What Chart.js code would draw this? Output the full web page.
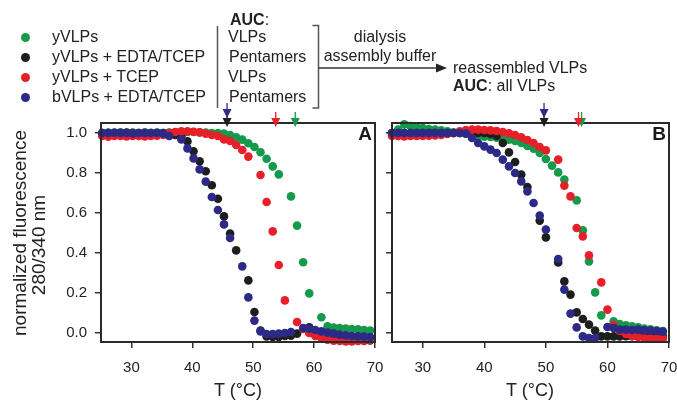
<!DOCTYPE html>
<html><head><meta charset="utf-8">
<script src="https://cdn.jsdelivr.net/npm/chart.js@4/dist/chart.umd.min.js"></script>
<style>
html,body{margin:0;padding:0;background:#fff;}
#wrap{position:relative;width:677px;height:410px;overflow:hidden;font-family:"Liberation Sans",Arial,sans-serif;color:#222;}
canvas{position:absolute;top:0;}
.t{position:absolute;white-space:nowrap;font-size:16px;line-height:20px;height:20px;}
.c{transform:translateX(-50%);}
.dot{position:absolute;width:9px;height:9px;border-radius:50%;}
.rot{position:absolute;white-space:nowrap;font-size:19px;line-height:22px;transform:translate(-50%,-50%) rotate(-90deg);}
.xt{position:absolute;white-space:nowrap;font-size:18px;line-height:22px;transform:translate(-50%,-50%);}
svg{position:absolute;left:0;top:0;}
</style></head>
<body><div id="wrap">
<canvas id="cA" width="385" height="410" style="left:0;width:385px;height:410px"></canvas>
<canvas id="cB" width="292" height="410" style="left:385px;width:292px;height:410px"></canvas>
<svg width="677" height="130">
 <line x1="217.5" y1="26" x2="217.5" y2="108" stroke="#555" stroke-width="1.5"/>
 <path d="M312.5,25.5 H318.5 V108 H312.5" fill="none" stroke="#555" stroke-width="1.5"/>
 <line x1="318.5" y1="68" x2="437" y2="68" stroke="#333" stroke-width="1.5"/>
 <polygon points="436,63.5 447,68 436,72.5" fill="#222"/>
</svg>
<div class="t" style="left:230px;top:10px"><b>AUC</b>:</div>
<div class="t" style="left:228px;top:27px">VLPs</div>
<div class="t" style="left:229px;top:47px">Pentamers</div>
<div class="t" style="left:228px;top:67px">VLPs</div>
<div class="t" style="left:229px;top:87px">Pentamers</div>
<div class="t c" style="left:380px;top:27px">dialysis</div>
<div class="t c" style="left:380px;top:46px">assembly buffer</div>
<div class="t" style="left:453px;top:58px">reassembled VLPs</div>
<div class="t" style="left:453px;top:76px"><b>AUC</b>: all VLPs</div>
<div class="rot" style="left:19.5px;top:233px">normalized fluorescence</div>
<div class="rot" style="left:39px;top:245px">280/340 nm</div>
<div class="xt" style="left:238px;top:390px">T (°C)</div>
<div class="xt" style="left:530px;top:390px">T (°C)</div>
</div>
<script>
// ---- data ----
const legendLabels = ['yVLPs', 'yVLPs + EDTA/TCEP', 'yVLPs + TCEP', 'bVLPs + EDTA/TCEP'];
const seriesKeys = ['green', 'black', 'red', 'blue'];
const xTicks = [30, 40, 50, 60, 70];
const yTicks = [0.0, 0.2, 0.4, 0.6, 0.8, 1.0];

const tempsA = [25.2,26.2,27.2,28.2,29.2,30.2,31.2,32.2,33.2,34.2,35.2,36.2,37.2,38.2,39.2,40.2,41.2,42.2,43.2,44.2,45.2,46.2,47.2,48.2,49.2,50.2,51.2,52.2,53.2,54.2,55.2,56.2,57.2,58.2,59.2,60.2,61.2,62.2,63.2,64.2,65.2,66.2,67.2,68.2,69.2];
const greenA = [1.0,1.002,1.0,1.003,1.0,1.002,1.0,1.003,1.0,1.002,1.0,1.002,1.003,1.005,1.005,1.005,1.003,1.002,1.0,1.0,0.997,0.99,0.978,0.967,0.949,0.93,0.904,0.871,0.833,0.793,null,0.683,0.537,0.354,0.198,null,0.079,0.033,0.027,0.025,0.022,0.02,0.018,0.015,0.012];
const blackA = [1.0,1.0,0.998,1.0,1.002,1.0,1.0,0.998,1.0,1.0,1.0,1.0,0.99,0.985,0.958,0.909,0.859,0.809,0.739,0.671,0.583,0.497,0.413,null,0.263,0.105,0.012,-0.017,-0.02,-0.02,-0.015,-0.013,-0.003,null,0.028,0.01,-0.005,-0.013,-0.02,-0.025,-0.028,-0.032,-0.035,-0.037,-0.037];
const redA = [0.985,0.982,0.985,0.985,0.983,0.985,0.985,0.983,0.985,0.987,0.99,1.0,1.005,1.008,1.008,1.006,1.003,0.997,0.99,0.985,0.968,0.96,0.94,0.915,0.882,null,0.79,0.655,0.508,0.34,0.163,null,0.055,0.02,0.0,-0.015,-0.025,-0.033,-0.038,-0.04,-0.042,-0.042,-0.04,-0.04,-0.035];
const blueA = [1.0,1.0,1.002,1.0,1.0,0.998,1.0,1.0,1.0,1.0,0.998,0.985,null,0.968,0.923,0.873,0.818,0.757,0.68,0.615,0.543,0.475,null,0.333,0.178,0.062,0.008,-0.005,-0.005,-0.003,0.0,0.005,null,0.025,0.022,0.015,0.008,0.002,-0.003,-0.008,-0.012,-0.015,-0.017,-0.018,-0.02];

const tempsB = [25,26,27,28,29,30,31,32,33,34,35,36,37,38,39,40,41,42,43,44,45,46,47,48,49,50,51,52,53,54,55,56,57,58,59,60,61,62,63,64,65,66,67,68,69];
const greenB = [1.0,1.017,1.043,1.035,1.03,1.025,1.02,1.017,1.013,1.008,1.003,1.0,0.997,0.99,0.985,0.982,0.98,0.977,0.973,0.967,0.96,0.95,0.935,0.922,0.9,0.87,0.837,0.803,0.767,null,0.663,0.513,0.358,0.203,0.088,null,0.058,0.045,0.038,0.033,0.028,0.022,0.018,0.013,0.01];
const blackB = [1.0,1.0,1.0,1.0,1.0,1.0,1.0,1.0,1.0,1.0,1.0,1.0,1.0,1.0,1.0,1.0,0.995,0.985,0.95,0.903,0.855,0.792,0.73,null,0.562,0.478,null,0.353,0.258,0.192,0.103,0.07,0.042,0.012,-0.017,-0.017,-0.017,-0.017,-0.016,-0.016,-0.016,-0.015,-0.015,-0.015,-0.015];
const redB = [0.985,0.985,0.983,0.985,0.985,0.985,0.987,0.988,0.99,0.995,1.0,1.008,1.015,1.017,1.017,1.015,1.013,1.01,1.005,0.998,0.99,0.978,0.965,0.95,0.93,0.913,null,0.867,0.737,0.683,0.525,0.483,0.388,null,0.253,0.117,0.04,0.01,-0.005,-0.015,-0.02,-0.025,-0.027,-0.028,-0.028];
const blueB = [1.0,1.0,1.0,1.0,1.0,1.0,1.0,1.0,1.0,1.0,1.0,1.0,0.997,0.975,0.95,0.933,0.917,0.9,0.867,0.833,0.8,0.758,0.708,0.65,0.587,0.517,null,0.37,0.217,0.097,0.028,-0.017,-0.025,-0.025,null,0.03,0.025,0.017,0.017,0.015,0.017,0.013,0.012,0.01,0.007];

// transition-temperature arrows (°C)
const arrowTempsA = {black: 45.7, blue: 45.7, green: 56.9, red: 53.7};
const arrowTempsB = {black: 49.7, blue: 49.7, green: 55.8, red: 55.3};

// ---- styling ----
const FONT = '"Liberation Sans", Arial, sans-serif';
const COLORS = {green: '#15994a', black: '#1e1e1e', red: '#e61f29', blue: '#2d2a87'};
const DRAW_ORDER = {blue: 0, red: 1, black: 2, green: 3};

// legend (HTML)
const wrap = document.getElementById('wrap');
seriesKeys.forEach((k, i) => {
  const d = document.createElement('div'); d.className = 'dot';
  d.style.left = (25 - 4.5) + 'px'; d.style.top = (37 + i * 20 - 4.5) + 'px'; d.style.background = COLORS[k];
  wrap.appendChild(d);
  const t = document.createElement('div'); t.className = 't'; t.textContent = legendLabels[i];
  t.style.left = '52px'; t.style.top = (27 + i * 20) + 'px';
  wrap.appendChild(t);
});

function buildData(temps, vals) {
  const out = [];
  temps.forEach((t, i) => { if (vals[i] !== null) out.push({x: t, y: vals[i]}); });
  return out;
}

const framePlugin = {
  id: 'frame',
  afterDraw(chart, args, o) {
    const {ctx, chartArea: a} = chart;
    const xs = chart.scales.x;
    ctx.save();
    ctx.lineWidth = 2; ctx.strokeStyle = '#2a2a2a';
    ctx.strokeRect(a.left, a.top, a.right - a.left, a.bottom - a.top);
    ctx.fillStyle = '#1a1a1a'; ctx.font = 'bold 19px ' + FONT;
    ctx.textAlign = 'right'; ctx.textBaseline = 'middle';
    ctx.fillText(o.label, a.right - 3, a.top + 12);
    const list = [['black', 0], ['blue', 1], ['green', 0], ['red', 0]];
    list.forEach(([k, level]) => {
      const x = xs.getPixelForValue(o.arrows[k]);
      const tip = a.top + 4 - level * 9;
      ctx.strokeStyle = COLORS[k]; ctx.fillStyle = COLORS[k]; ctx.lineWidth = 1.3;
      ctx.beginPath(); ctx.moveTo(x, tip - 15); ctx.lineTo(x, tip - 8); ctx.stroke();
      ctx.beginPath(); ctx.moveTo(x - 4.5, tip - 9); ctx.lineTo(x + 4.5, tip - 9); ctx.lineTo(x, tip); ctx.closePath(); ctx.fill();
    });
    ctx.restore();
  }
};

function makeChart(id, temps, ser, cfg) {
  const datasets = seriesKeys.map(k => ({
    label: k,
    data: buildData(temps, ser[k]),
    backgroundColor: COLORS[k],
    borderWidth: 0,
    pointRadius: 4.3,
    pointHoverRadius: 4.3,
    order: DRAW_ORDER[k],
    clip: 8
  }));
  const tickGrid = {drawOnChartArea: false, drawTicks: true, tickLength: 6, color: '#333', lineWidth: 1.5};
  return new Chart(document.getElementById(id), {
    type: 'scatter',
    data: {datasets},
    options: {
      responsive: false, animation: false, events: [],
      layout: {padding: {top: 123, right: cfg.right, left: 0, bottom: 0}},
      plugins: {legend: {display: false}, tooltip: {enabled: false}, frame: {label: cfg.label, arrows: cfg.arrows}},
      scales: {
        x: {
          type: 'linear', min: 25, max: 70,
          afterBuildTicks: s => { s.ticks = xTicks.map(v => ({value: v})); },
          afterFit: s => { s.height = 68; s.paddingLeft = 0; s.paddingRight = 0; },
          grid: tickGrid,
          border: {display: true, color: '#2a2a2a', width: 2},
          ticks: {font: {family: FONT, size: 15}, color: '#222', padding: 11, maxRotation: 0, autoSkip: false}
        },
        y: {
          type: 'linear', min: -0.045, max: 1.05,
          afterBuildTicks: s => { s.ticks = yTicks.map(v => ({value: v})); },
          afterFit: s => { s.width = cfg.yw; s.paddingTop = 0; s.paddingBottom = 0; },
          grid: tickGrid,
          border: {display: true, color: '#2a2a2a', width: 2},
          ticks: {display: cfg.ylabels, font: {family: FONT, size: 15}, color: '#222', padding: 8,
                  callback: v => Number(v).toFixed(1)}
        }
      }
    },
    plugins: [framePlugin]
  });
}

makeChart('cA', tempsA, {green: greenA, black: blackA, red: redA, blue: blueA},
  {label: 'A', arrows: arrowTempsA, yw: 101, right: 10, ylabels: true});
makeChart('cB', tempsB, {green: greenB, black: blackB, red: redB, blue: blueB},
  {label: 'B', arrows: arrowTempsB, yw: 7, right: 8, ylabels: false});
</script>
</body></html>
